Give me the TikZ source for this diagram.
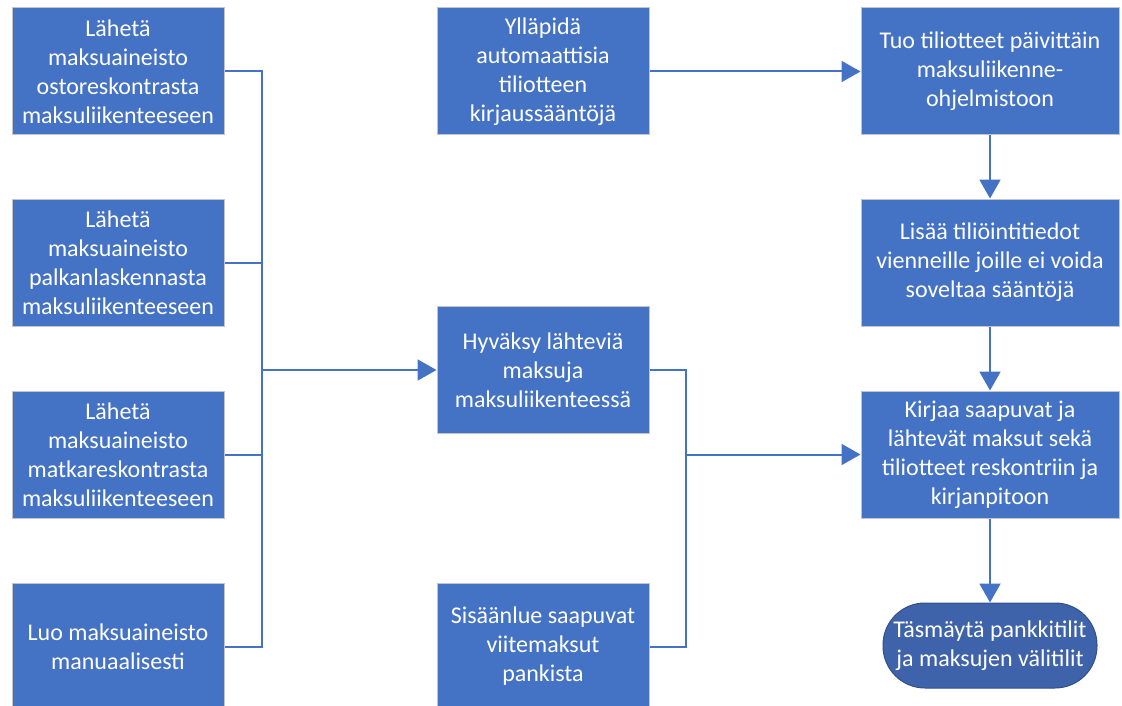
\documentclass[tikz,border=0pt]{standalone}
\usepackage{fontspec}
\setmainfont{Carlito}
\usetikzlibrary{arrows.meta}
\definecolor{boxblue}{HTML}{4472C4}
\definecolor{endblue}{HTML}{3F63AA}
\definecolor{edgegray}{HTML}{C4C4C4}
\tikzset{
  stepbox/.style={rectangle, fill=boxblue, draw=edgegray, line width=1pt,
    inner sep=0pt, text=white, align=center,
    font=\fontsize{24}{29}\selectfont},
  leftbox/.style={stepbox, minimum width=212pt, minimum height=127pt},
  rightbox/.style={stepbox, minimum width=258pt, minimum height=127pt},
  endbox/.style={stepbox, fill=endblue, draw=endblue!80!black,
    rounded corners=42pt, minimum width=214pt, minimum height=85pt},
  link/.style={draw=boxblue, line width=2pt},
  flow/.style={link, -{Triangle[length=19pt,width=21pt]}},
}
\begin{document}
\begin{tikzpicture}[x=1pt, y=-1pt]
\useasboundingbox (0,0) rectangle (1122,706);

% left column: sources of outgoing payment data
\node[leftbox] (b1) at (118,71.5) {Lähetä\\maksuaineisto\\ostoreskontrasta\\maksuliikenteeseen};
\node[leftbox] (b2) at (118,262.5) {Lähetä\\maksuaineisto\\palkanlaskennasta\\maksuliikenteeseen};
\node[leftbox] (b3) at (118,454.5) {Lähetä\\maksuaineisto\\matkareskontrasta\\maksuliikenteeseen};
\node[leftbox] (b4) at (118,646.5) {Luo maksuaineisto\\manuaalisesti};

% middle column
\node[leftbox] (yll) at (543,71.5) {Ylläpidä\\automaattisia\\tiliotteen\\kirjaussääntöjä};
\node[leftbox] (hyv) at (543,370) {Hyväksy lähteviä\\maksuja\\maksuliikenteessä};
\node[leftbox] (sis) at (543,646.5) {Sisäänlue saapuvat\\viitemaksut\\pankista};

% right column
\node[rightbox] (tuo) at (990,71.5) {Tuo tiliotteet päivittäin\\maksuliikenne-\\ohjelmistoon};
\node[rightbox] (lis) at (990,262.5) {Lisää tiliöintitiedot\\vienneille joille ei voida\\soveltaa sääntöjä};
\node[rightbox] (kir) at (990,454.5) {Kirjaa saapuvat ja\\lähtevät maksut sekä\\tiliotteet reskontriin ja\\kirjanpitoon};
\node[endbox] (tas) at (990,645.5) {Täsmäytä pankkitilit\\ja maksujen välitilit};

% collecting lines
\coordinate (busL) at (262,370);
\coordinate (busM) at (686,454.5);

\draw[link] (b1.east) -| (busL);
\draw[link] (b4.east) -| (busL);
\draw[link] (b2.east) -- (b2.east -| busL);
\draw[link] (b3.east) -- (b3.east -| busL);
\draw[flow] (busL) -- (hyv.west);

\draw[link] (hyv.east) -| (busM);
\draw[link] (sis.east) -| (busM);
\draw[flow] (busM) -- (kir.west);

\draw[flow] (yll.east) -- (tuo.west);
\draw[flow] (tuo.south) -- (lis.north);
\draw[flow] (lis.south) -- (kir.north);
\draw[flow] (kir.south) -- (tas.north);
\end{tikzpicture}
\end{document}
